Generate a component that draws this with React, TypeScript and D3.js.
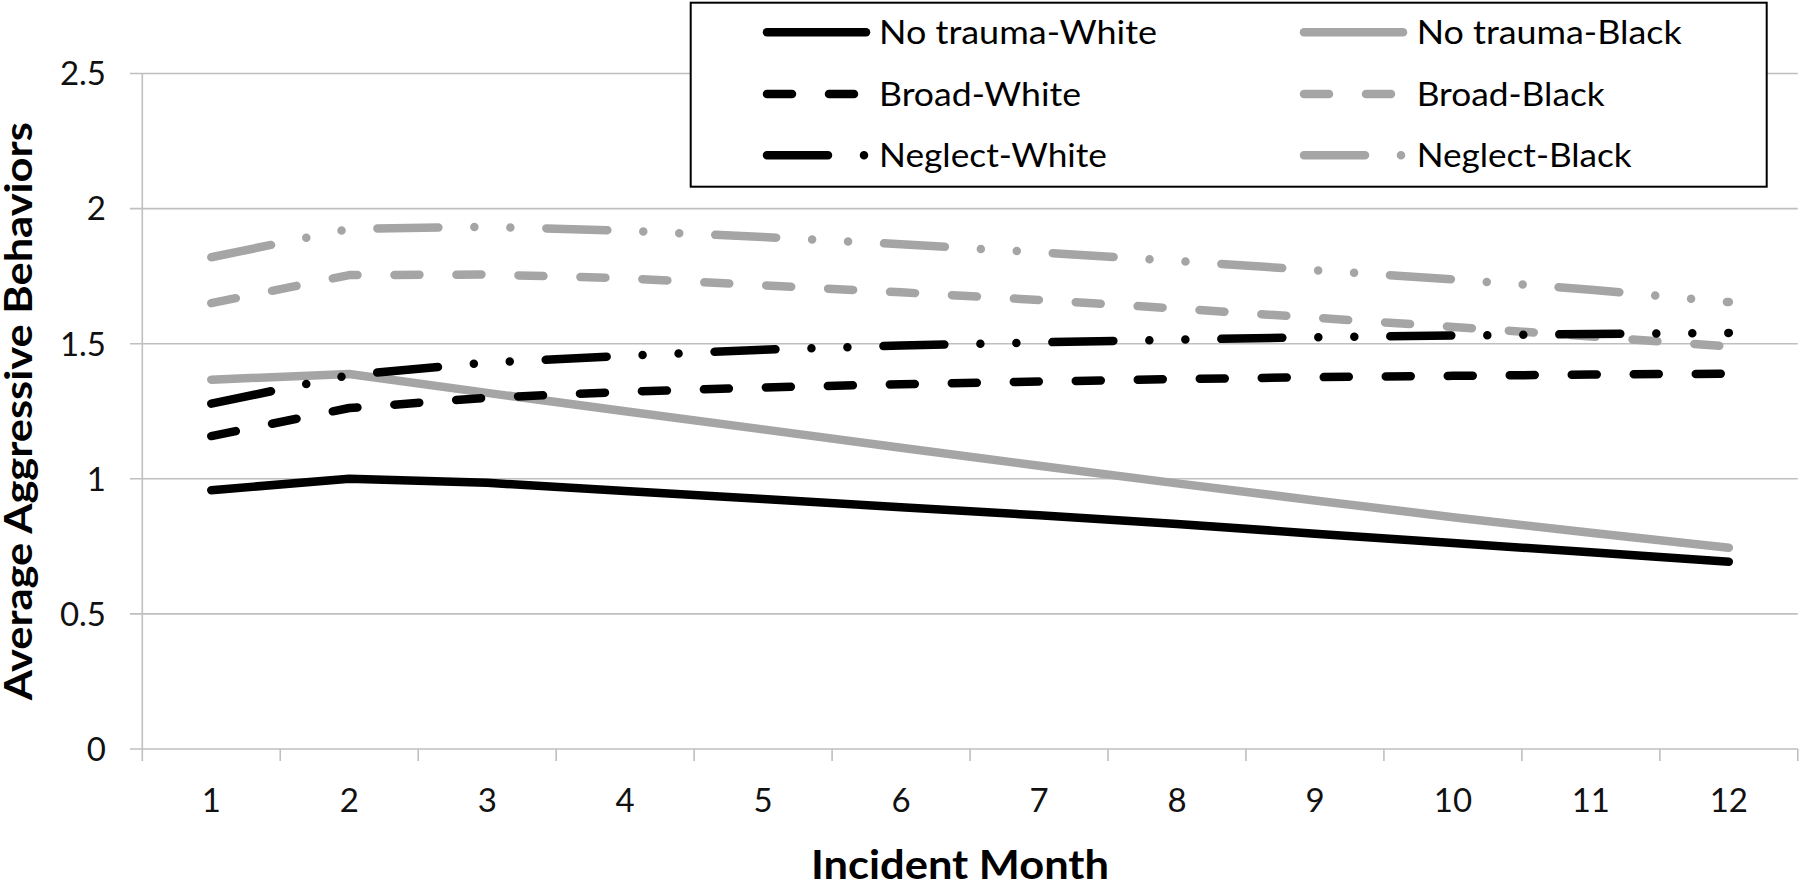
import React from "react";
import * as d3 from "d3";

const months = [1, 2, 3, 4, 5, 6, 7, 8, 9, 10, 11, 12];
const yTicks = [0, 0.5, 1, 1.5, 2, 2.5];
const yTickLabels = ["0", "0.5", "1", "1.5", "2", "2.5"];

const noTraumaWhite = [0.958, 1.0, 0.985, 0.955, 0.925, 0.895, 0.865, 0.833, 0.797, 0.762, 0.728, 0.693];
const noTraumaBlack = [1.367, 1.388, 1.318, 1.25, 1.183, 1.115, 1.048, 0.983, 0.92, 0.858, 0.8, 0.745];
const broadWhite = [1.158, 1.262, 1.3, 1.322, 1.338, 1.35, 1.36, 1.369, 1.376, 1.381, 1.386, 1.389];
const broadBlack = [1.65, 1.754, 1.756, 1.742, 1.716, 1.69, 1.662, 1.63, 1.596, 1.562, 1.527, 1.49];
const neglectWhite = [1.278, 1.384, 1.43, 1.455, 1.478, 1.493, 1.505, 1.515, 1.524, 1.53, 1.536, 1.54];
const neglectBlack = [1.82, 1.925, 1.933, 1.918, 1.895, 1.868, 1.838, 1.806, 1.772, 1.738, 1.7, 1.654];

const seriesNames = [
  "No trauma-White",
  "No trauma-Black",
  "Broad-White",
  "Broad-Black",
  "Neglect-White",
  "Neglect-Black",
];
const seriesValues = [noTraumaWhite, noTraumaBlack, broadWhite, broadBlack, neglectWhite, neglectBlack];

const BLACK = "#000000";
const GREY = "#a5a5a5";
const seriesColors = [BLACK, GREY, BLACK, GREY, BLACK, GREY];
const SOLID = "none";
const DASH = "25 37";
const LONGDASHDOTDOT = "61 36 0 36 0 36";
const seriesDashes = [SOLID, SOLID, DASH, DASH, LONGDASHDOTDOT, LONGDASHDOTDOT];
// reference text widths (px) of the legend labels
const legendWidths = [278, 265, 202, 188, 228, 215];

const W = 1800;
const H = 881;
const LEFT = 142.3;
const RIGHT = 1797.8;
const TOP = 73.5;
const BOTTOM = 749;
const FONT = "Lato, 'Open Sans', sans-serif";
const STROKE = 8.5;

export default function App() {
  const x = d3.scaleBand<number>().domain(months).range([LEFT, RIGHT]).padding(0);
  const y = d3.scaleLinear().domain([0, 2.5]).range([BOTTOM, TOP]);
  const cx = (m: number) => (x(m) as number) + x.bandwidth() / 2;

  const line = d3
    .line<number>()
    .x((_, i) => cx(months[i]))
    .y((v) => y(v));

  const boundaries = months.map((m) => x(m) as number).concat([RIGHT]);

  // legend geometry
  const legX = 690.7;
  const legY = 2.7;
  const legW = 1076;
  const legH = 184;
  const rowY = [32.3, 94, 155.3];
  const rowBase = [44, 106, 167];
  const colLineX = [767, 1304];
  const colTextX = [879, 1416.7];
  const sampleLen = 99;

  return (
    <svg
      width={W}
      height={H}
      style={{ position: "absolute", left: 0, top: 0, display: "block", background: "#fff" }}
      fontFamily={FONT}
    >
      <rect x={0} y={0} width={W} height={H} fill="#ffffff" />
      {/* gridlines */}
      {yTicks.map((t) => (
        <line key={"g" + t} x1={130} x2={RIGHT} y1={y(t)} y2={y(t)} stroke="#bfbfbf" strokeWidth={1.6} />
      ))}
      {/* y axis line */}
      <line x1={LEFT} x2={LEFT} y1={TOP} y2={BOTTOM} stroke="#bfbfbf" strokeWidth={1.6} />
      {/* x ticks */}
      {boundaries.map((b, i) => (
        <line key={"xt" + i} x1={b} x2={b} y1={BOTTOM} y2={BOTTOM + 12} stroke="#bfbfbf" strokeWidth={1.6} />
      ))}
      {/* y tick labels */}
      {yTicks.map((t, i) => (
        <text key={"yl" + t} x={106} y={y(t)} dy="0.36em" textAnchor="end" fontSize={33} fill="#111">
          {yTickLabels[i]}
        </text>
      ))}
      {/* x tick labels */}
      {months.map((m) => (
        <text key={"xl" + m} x={cx(m)} y={812} textAnchor="middle" fontSize={33} fill="#111">
          {String(m)}
        </text>
      ))}
      {/* axis titles */}
      <text
        x={960}
        y={879}
        textAnchor="middle"
        fontSize={41}
        fontWeight="bold"
        textLength={298}
        lengthAdjust="spacingAndGlyphs"
        fill="#000"
      >
        Incident Month
      </text>
      <text
        transform={`translate(31.5, ${(TOP + BOTTOM) / 2}) rotate(-90)`}
        textAnchor="middle"
        fontSize={38}
        fontWeight="bold"
        textLength={578}
        lengthAdjust="spacingAndGlyphs"
        fill="#000"
      >
        Average Aggressive Behaviors
      </text>
      {/* series */}
      {seriesValues.map((vals, i) => (
        <path
          key={"s" + i}
          d={line(vals) || ""}
          fill="none"
          stroke={seriesColors[i]}
          strokeWidth={STROKE}
          strokeDasharray={seriesDashes[i]}
          strokeLinecap="round"
          strokeLinejoin="round"
        />
      ))}
      {/* legend */}
      <rect x={legX} y={legY} width={legW} height={legH} fill="#fff" stroke="#000" strokeWidth={2} />
      {seriesNames.map((name, i) => {
        const col = i % 2;
        const row = Math.floor(i / 2);
        return (
          <g key={"lg" + i}>
            <line
              x1={colLineX[col]}
              x2={colLineX[col] + sampleLen}
              y1={rowY[row]}
              y2={rowY[row]}
              stroke={seriesColors[i]}
              strokeWidth={STROKE}
              strokeDasharray={seriesDashes[i]}
              strokeLinecap="round"
            />
            <text
              x={colTextX[col]}
              y={rowBase[row]}
              fontSize={33}
              fill="#000"
              textLength={legendWidths[i]}
              lengthAdjust="spacingAndGlyphs"
            >
              {name}
            </text>
          </g>
        );
      })}
    </svg>
  );
}
